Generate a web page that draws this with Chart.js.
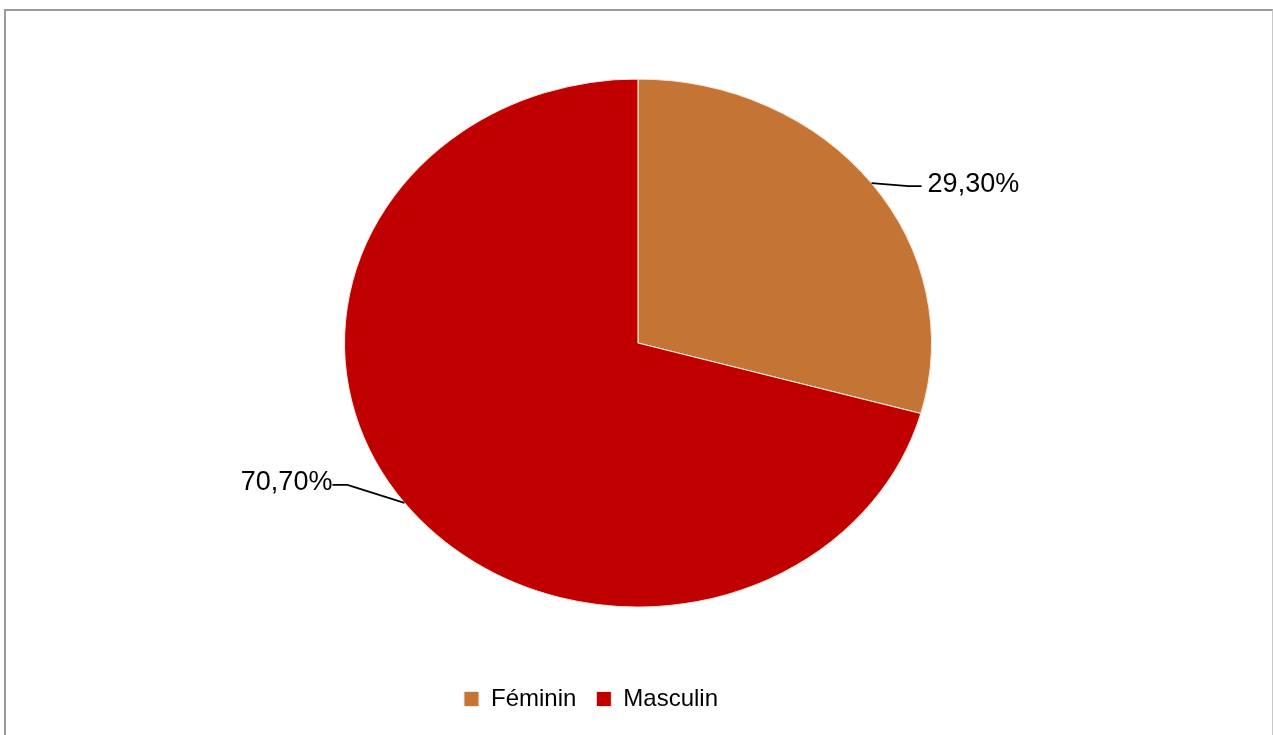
<!DOCTYPE html>
<html>
<head>
<meta charset="utf-8">
<script src="https://cdn.jsdelivr.net/npm/chart.js@4.4.1/dist/chart.umd.min.js"></script>
<style>
  html, body { margin: 0; padding: 0; background: #fff; overflow: hidden; }
  .wrap { position: relative; width: 1273px; height: 735px; }
  .frame {
    position: absolute; left: 4px; top: 9px; width: 1269px; height: 800px;
    box-sizing: border-box; border: 2px solid #9a9a9a; border-right: 1px solid #c8c8c8;
    pointer-events: none;
  }
  canvas { position: absolute; left: 0; top: 0; }
</style>
</head>
<body>
<div class="wrap">
  <canvas id="pieChart" width="1273" height="735"></canvas>
  <div class="frame"></div>
</div>
<script>
const categories = ["Féminin", "Masculin"];
const shares = [29.3, 70.7];
const valueLabels = ["29,30%", "70,70%"];
const sliceColors = ["#C47535", "#C00000"];

// the source pie is an ellipse, not a circle
const PIE_CENTER = { x: 638, y: 343 };
const PIE_RY = 264;
const PIE_SX = 293.5 / 264;

function project(chart, x, y) {
  const arc = chart.getDatasetMeta(0).data[0];
  return {
    x: PIE_CENTER.x + (x - arc.x) * PIE_SX,
    y: PIE_CENTER.y + (y - arc.y),
  };
}

const ellipsePlugin = {
  id: "ellipse",
  beforeDatasetsDraw(chart) {
    const arc = chart.getDatasetMeta(0).data[0];
    const ctx = chart.ctx;
    ctx.save();
    ctx.translate(PIE_CENTER.x, PIE_CENTER.y);
    ctx.scale(PIE_SX, 1);
    ctx.translate(-arc.x, -arc.y);
  },
  afterDatasetsDraw(chart) {
    chart.ctx.restore();
  },
};

const leaderPlugin = {
  id: "leaders",
  afterDraw(chart) {
    const ctx = chart.ctx;
    const meta = chart.getDatasetMeta(0);
    ctx.save();
    ctx.strokeStyle = "#000";
    ctx.lineWidth = 1.8;
    ctx.fillStyle = "#000";
    ctx.font = "27px 'Liberation Sans', Arial, sans-serif";
    ctx.textBaseline = "middle";
    meta.data.forEach((arc, i) => {
      const mid = (arc.startAngle + arc.endAngle) / 2;
      const edge = project(chart, arc.x + Math.cos(mid) * arc.outerRadius, arc.y + Math.sin(mid) * arc.outerRadius);
      const right = Math.cos(mid) >= 0;
      let elbow, end;
      if (right) {
        elbow = { x: edge.x + 37, y: edge.y + 3 };
        end = { x: edge.x + 50, y: edge.y + 3 };
      } else {
        elbow = { x: edge.x - 57, y: edge.y - 18 };
        end = { x: edge.x - 72, y: edge.y - 18 };
      }
      ctx.beginPath();
      ctx.moveTo(edge.x, edge.y);
      ctx.lineTo(elbow.x, elbow.y);
      ctx.lineTo(end.x, end.y);
      ctx.stroke();
      ctx.textAlign = right ? "left" : "right";
      ctx.fillText(valueLabels[i], right ? end.x + 6 : end.x, end.y - 2);
    });
    ctx.restore();
  },
};

new Chart(document.getElementById("pieChart"), {
  type: "pie",
  data: {
    labels: categories,
    datasets: [
      {
        data: shares,
        backgroundColor: sliceColors,
        borderColor: "#f4e6dc",
        borderWidth: 1,
      },
    ],
  },
  options: {
    responsive: false,
    animation: false,
    radius: PIE_RY,
    layout: { padding: { left: 0, right: 91, top: 12, bottom: 14 } },
    plugins: {
      tooltip: { enabled: false },
      legend: {
        position: "bottom",
        labels: {
          color: "#000",
          boxWidth: 15,
          boxHeight: 15,
          padding: 20,
          font: { family: "'Liberation Sans', Arial, sans-serif", size: 24 },
        },
      },
    },
  },
  plugins: [ellipsePlugin, leaderPlugin],
});
</script>
</body>
</html>
